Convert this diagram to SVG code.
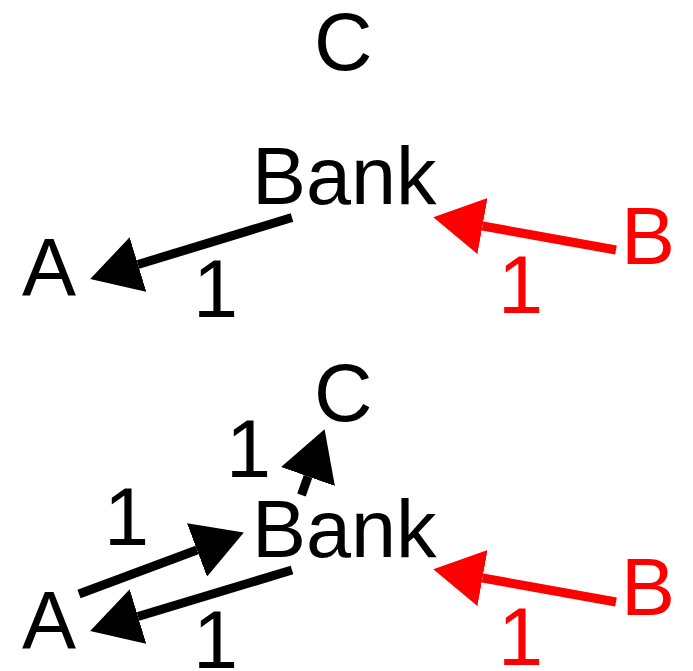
<svg xmlns="http://www.w3.org/2000/svg" width="693" height="671" viewBox="0 0 693 671">
  <style>
    text { font-family: "Liberation Sans", Arial, sans-serif; font-size: 81px; }
    .blk { fill: #000000; }
    .red { fill: #ff0000; }
    .edge { fill: none; stroke-width: 9; }
    .eblk { stroke: #000000; marker-end: url(#headBlack); }
    .ered { stroke: #ff0000; marker-end: url(#headRed); }
  </style>
  <defs>
    <marker id="headBlack" viewBox="0 -28.5 50 57" refX="0" refY="0" markerWidth="50" markerHeight="57" markerUnits="userSpaceOnUse" orient="auto">
      <path d="M0,-28.5 L50,0 L0,28.5 Z" fill="#000000"/>
    </marker>
    <marker id="headRed" viewBox="0 -28.5 50 57" refX="0" refY="0" markerWidth="50" markerHeight="57" markerUnits="userSpaceOnUse" orient="auto">
      <path d="M0,-28.5 L50,0 L0,28.5 Z" fill="#ff0000"/>
    </marker>
  </defs>

  <!-- Top diagram -->
  <g id="top-C"><text class="blk" x="314" y="70">C</text></g>
  <g id="top-Bank"><text class="blk" x="252" y="204">Bank</text></g>
  <g id="top-A"><text class="blk" x="22" y="295">A</text></g>
  <g id="top-B"><text class="red" x="621" y="264">B</text></g>

  <!-- Bottom diagram -->
  <g id="bottom-C"><text class="blk" x="314" y="421">C</text></g>
  <g id="bottom-Bank"><text class="blk" x="252" y="557">Bank</text></g>
  <g id="bottom-A"><text class="blk" x="22" y="648">A</text></g>
  <g id="bottom-B"><text class="red" x="621" y="615">B</text></g>

  <g id="connectors">
    <!-- top -->
    <path class="edge eblk" d="M292,217.5 L138,264.5"/>
    <text class="blk" x="193" y="317">1</text>
    <path class="edge ered" d="M616,250 L482.5,226"/>
    <text class="red" x="498" y="313">1</text>

    <!-- bottom -->
    <path class="edge eblk" d="M301.5,495 L308,476.5"/>
    <text class="blk" x="226" y="477">1</text>
    <path class="edge eblk" d="M79,594 L197,550"/>
    <text class="blk" x="104" y="545">1</text>
    <path class="edge eblk" d="M292,570 L138,616.5"/>
    <text class="blk" x="193" y="668">1</text>
    <path class="edge ered" d="M616,602 L482.5,578"/>
    <text class="red" x="498" y="665">1</text>
  </g>
</svg>
